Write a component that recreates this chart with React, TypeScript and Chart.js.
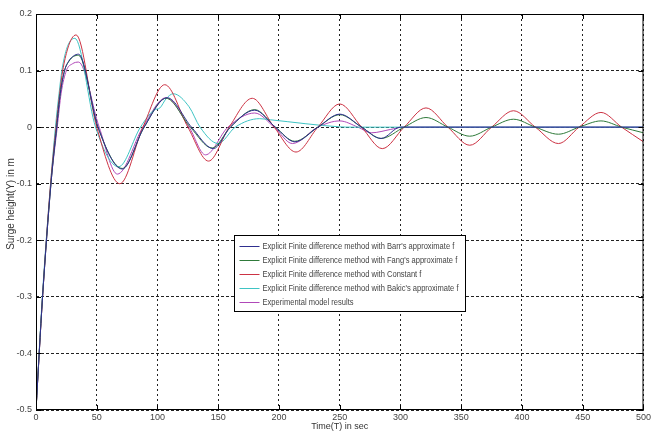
import React, { useEffect, useRef } from "react";
import { Chart, registerables } from "chart.js";
Chart.register(...registerables);

const X_TICKS = [0, 50, 100, 150, 200, 250, 300, 350, 400, 450, 500];
const Y_TICKS = [0.2, 0.1, 0, -0.1, -0.2, -0.3, -0.4, -0.5];

const X_TITLE = "Time(T) in sec";
const Y_TITLE = "Surge height(Y) in m";

const LABELS = [
  "Explicit Finite difference method with Barr's approximate f",
  "Explicit Finite difference method with Fang's approximate f",
  "Explicit Finite difference method with Constant f",
  "Explicit Finite difference method with Bakic's approximate f",
  "Experimental model results",
];

const barrT = [0, 5.4, 12.3, 17, 20, 23.5, 27, 31, 35, 51, 71, 89, 108, 128, 146, 160, 180, 197, 213, 232, 250, 268, 284, 300, 330, 500];
const barrY = [-0.5, -0.3, -0.1, 0, 0.06, 0.1, 0.117, 0.126, 0.129, 0, -0.074, 0, 0.052, 0, -0.038, 0, 0.03, 0, -0.026, 0, 0.023, 0, -0.02, 0, 0, 0];

const fangT = [0, 5.4, 12.3, 17, 20, 23.5, 27, 31, 35, 51, 71, 89, 107, 127, 145, 160, 180, 197, 213, 232, 250, 268, 284, 303, 321, 339, 357, 375, 393, 411, 430, 447, 465, 482, 500];
const fangY = [-0.5, -0.3, -0.1, 0, 0.06, 0.1, 0.116, 0.125, 0.127, 0, -0.073, 0, 0.051, 0, -0.037, 0, 0.031, 0, -0.025, 0, 0.022, 0, -0.02, 0, 0.017, 0, -0.016, 0, 0.014, 0, -0.0125, 0, 0.011, 0, -0.01];

const constT = [0, 5.4, 12, 16.5, 19.5, 22, 26, 29.5, 33, 50, 69, 88, 106, 125, 142, 159, 178, 196, 214, 232, 250, 268, 285, 303, 321, 339, 357, 375, 393, 411, 430, 447, 465, 482, 500];
const constY = [-0.5, -0.3, -0.1, 0, 0.06, 0.1, 0.138, 0.157, 0.163, 0, -0.1, 0, 0.075, 0, -0.06, 0, 0.051, 0, -0.044, 0, 0.041, 0, -0.038, 0, 0.034, 0, -0.032, 0, 0.029, 0, -0.029, 0, 0.026, 0, -0.026];

const bakicT = [0, 5.2, 12, 16, 19, 21.3, 25, 28.5, 32, 49, 68, 86, 97, 102, 107, 113, 126, 135, 150, 164, 184, 193, 250, 260, 500];
const bakicY = [-0.5, -0.3, -0.1, 0, 0.06, 0.1, 0.137, 0.153, 0.157, 0, -0.07, 0, 0.03, 0.034, 0.05, 0.059, 0.036, 0, -0.029, 0, 0.015, 0.013, 0.0005, 0, 0];

const expT = [0, 5.4, 12.3, 17.5, 20.7, 25, 30, 35, 52, 67, 88, 107, 126, 139.5, 158, 180, 196, 211, 232, 250, 265, 276, 292, 302, 500];
const expY = [-0.5, -0.3, -0.1, 0, 0.06, 0.1, 0.112, 0.115, 0, -0.083, 0, 0.052, 0, -0.049, 0, 0.025, 0, -0.029, 0, 0.011, 0, -0.01, -0.004, 0, 0];

const COLORS = ["#2f2f8f", "#2f7a3a", "#cc3344", "#3fc4c4", "#b048b8"];

const FONT = '"Liberation Sans", Arial, sans-serif';

const pts = (t: number[], y: number[]) => t.map((v, i) => ({ x: v, y: y[i] }));

const framePlugin = {
  id: "frame",
  afterDraw(chart: any) {
    const { ctx, chartArea: a, scales } = chart;
    ctx.save();
    ctx.setLineDash([]);
    ctx.strokeStyle = "#000";
    ctx.lineWidth = 1;
    ctx.strokeRect(a.left + 0.5, a.top + 0.5, a.right - a.left - 1, a.bottom - a.top - 1);
    const tl = 5;
    ctx.beginPath();
    X_TICKS.forEach((v) => {
      const px = Math.round(scales.x.getPixelForValue(v)) + 0.5;
      ctx.moveTo(px, a.bottom);
      ctx.lineTo(px, a.bottom - tl);
      ctx.moveTo(px, a.top);
      ctx.lineTo(px, a.top + tl);
    });
    Y_TICKS.forEach((v) => {
      const py = Math.round(scales.y.getPixelForValue(v)) + 0.5;
      ctx.moveTo(a.left, py);
      ctx.lineTo(a.left + tl, py);
      ctx.moveTo(a.right, py);
      ctx.lineTo(a.right - tl, py);
    });
    ctx.stroke();

    // y axis title
    ctx.save();
    ctx.translate(11, 204);
    ctx.rotate(-Math.PI / 2);
    ctx.font = "10px " + FONT;
    ctx.fillStyle = "#333";
    ctx.textAlign = "center";
    ctx.textBaseline = "middle";
    ctx.fillText(Y_TITLE, 0, 0);
    ctx.restore();

    // legend box
    const bx = 234.5, by = 235.5, bw = 231, bh = 76;
    ctx.fillStyle = "#fff";
    ctx.fillRect(bx, by, bw, bh);
    ctx.strokeStyle = "#000";
    ctx.strokeRect(bx, by, bw, bh);
    ctx.font = "9px " + FONT;
    ctx.textBaseline = "middle";
    ctx.textAlign = "left";
    const maxW = Math.max(...LABELS.map((l) => ctx.measureText(l).width));
    const sx = 196 / maxW;
    chart.data.datasets.forEach((ds: any, i: number) => {
      const y = Math.round(by + 10 + i * 14.2) + 0.5;
      ctx.strokeStyle = ds.borderColor;
      ctx.lineWidth = 1;
      ctx.beginPath();
      ctx.moveTo(bx + 5, y);
      ctx.lineTo(bx + 25, y);
      ctx.stroke();
      ctx.save();
      ctx.translate(bx + 28, y);
      ctx.scale(sx, 1);
      ctx.fillStyle = "#444";
      ctx.fillText(ds.label, 0, 0);
      ctx.restore();
    });
    ctx.restore();
  },
};

export default function App() {
  const ref = useRef<HTMLCanvasElement | null>(null);
  useEffect(() => {
    document.body.style.margin = "0";
    const series = [
      [barrT, barrY],
      [fangT, fangY],
      [constT, constY],
      [bakicT, bakicY],
      [expT, expY],
    ];
    const chart = new Chart(ref.current as HTMLCanvasElement, {
      type: "line",
      data: {
        datasets: series.map((s, i) => ({
          label: LABELS[i],
          data: pts(s[0], s[1]),
          borderColor: COLORS[i],
          backgroundColor: COLORS[i],
          borderWidth: 1,
          pointRadius: 0,
          fill: false,
          cubicInterpolationMode: "monotone" as const,
        })),
      },
      options: {
        animation: false,
        responsive: true,
        maintainAspectRatio: false,
        layout: { padding: { top: 14, right: 4, left: 0, bottom: 0 } },
        plugins: { legend: { display: false }, tooltip: { enabled: false } },
        scales: {
          x: {
            type: "linear",
            min: 0,
            max: 500,
            afterBuildTicks: (s: any) => {
              s.ticks = X_TICKS.map((v) => ({ value: v }));
            },
            afterFit: (s: any) => {
              s.height = 22;
            },
            ticks: {
              autoSkip: false,
              maxRotation: 0,
              padding: 2,
              color: "#444",
              font: { family: FONT, size: 9 },
              callback: (v: any) => String(v),
            },
            grid: { color: "#222", lineWidth: 1, drawTicks: false },
            border: { display: false, dash: [2, 3] },
            title: {
              display: true,
              text: X_TITLE,
              color: "#333",
              font: { family: FONT, size: 9 },
              padding: { top: 0, bottom: 0 },
            },
          },
          y: {
            type: "linear",
            min: -0.5,
            max: 0.2,
            afterBuildTicks: (s: any) => {
              s.ticks = Y_TICKS.map((v) => ({ value: v }));
            },
            afterFit: (s: any) => {
              s.width = 36;
            },
            ticks: {
              autoSkip: false,
              padding: 4,
              color: "#444",
              font: { family: FONT, size: 9 },
              callback: (v: any) => String(v),
            },
            grid: { color: "#222", lineWidth: 1, drawTicks: false },
            border: { display: false, dash: [3, 2] },
          },
        },
      },
      plugins: [framePlugin],
    });
    return () => chart.destroy();
  }, []);
  return (
    <div style={{ position: "absolute", left: 0, top: 0, width: 653, height: 432 }}>
      <canvas ref={ref} />
    </div>
  );
}
